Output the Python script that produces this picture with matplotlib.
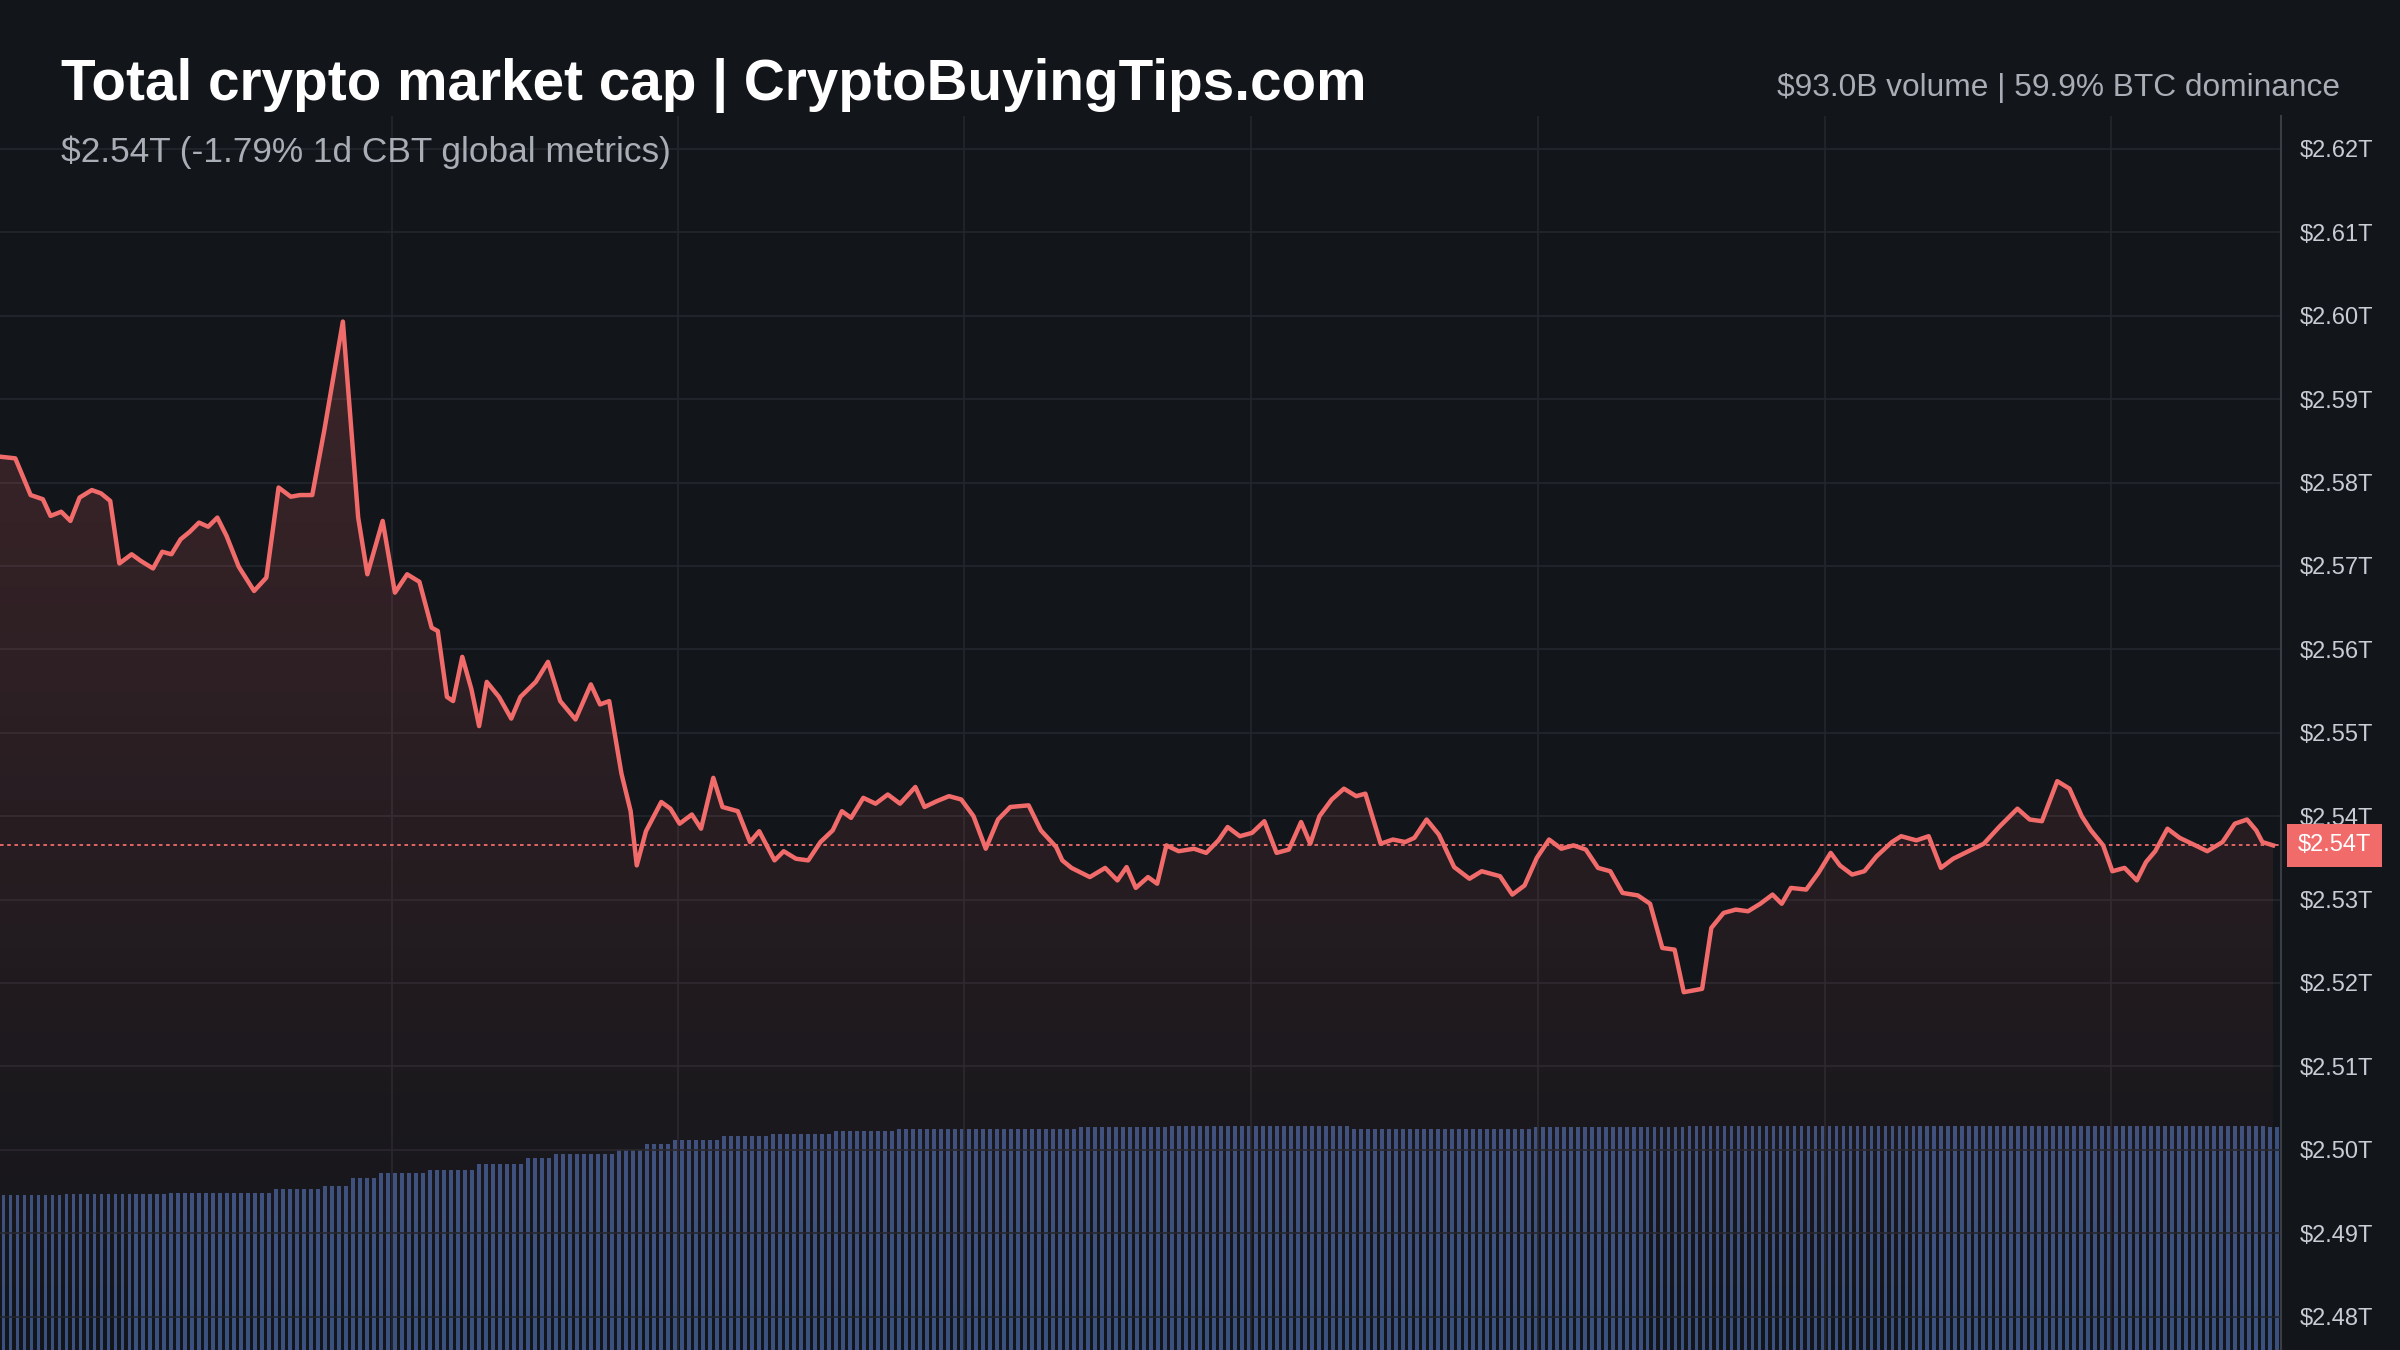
import numpy as np
import matplotlib
matplotlib.use("Agg")
import matplotlib.pyplot as plt
from matplotlib.patches import Polygon
from matplotlib.colors import LinearSegmentedColormap

plt.rcParams['font.family'] = ['Liberation Sans', 'DejaVu Sans']

# time steps (relative) and market cap in $T
t = [0,10,20,28,33,40,46,52,60,66,72,78,86,92,100,106,112,118,124,130,136,142,148,156,166,174,182,190,196,204,212,224,234,240,250,258,266,274,282,286,292,296,302,308,313,318,326,334,340,350,358,366,376,386,392,398,406,412,416,422,432,438,444,452,458,466,472,482,490,496,506,512,520,528,536,544,550,556,564,572,580,588,598,604,612,620,628,636,644,652,660,672,680,690,694,700,712,722,730,736,742,750,756,762,770,780,788,796,802,810,818,826,834,842,850,856,862,870,878,886,892,902,910,918,924,932,940,950,960,968,980,988,996,1004,1012,1020,1028,1036,1044,1052,1060,1070,1078,1086,1094,1100,1106,1112,1118,1126,1134,1142,1150,1158,1164,1170,1180,1188,1196,1202,1210,1218,1226,1236,1242,1252,1260,1268,1276,1286,1296,1306,1318,1326,1334,1344,1352,1360,1366,1374,1380,1388,1396,1402,1408,1416,1424,1432,1442,1452,1460,1468,1474,1478,1485]
cap = [2.5831,2.5829,2.5785,2.5780,2.5760,2.5765,2.5754,2.5782,2.5791,2.5787,2.5778,2.5703,2.5714,2.5706,2.5697,2.5717,2.5714,2.5732,2.5741,2.5752,2.5747,2.5758,2.5736,2.5699,2.5670,2.5686,2.5794,2.5783,2.5785,2.5785,2.5864,2.5993,2.5758,2.5690,2.5754,2.5668,2.5690,2.5681,2.5626,2.5622,2.5543,2.5538,2.5591,2.5552,2.5508,2.5561,2.5543,2.5517,2.5543,2.5561,2.5585,2.5538,2.5516,2.5558,2.5534,2.5538,2.5451,2.5406,2.5341,2.5382,2.5417,2.5409,2.5391,2.5402,2.5385,2.5446,2.5411,2.5406,2.5369,2.5382,2.5347,2.5358,2.5349,2.5347,2.5369,2.5383,2.5406,2.5398,2.5422,2.5415,2.5426,2.5415,2.5435,2.5411,2.5418,2.5424,2.5420,2.5400,2.5361,2.5396,2.5411,2.5413,2.5383,2.5363,2.5347,2.5338,2.5327,2.5338,2.5323,2.5339,2.5314,2.5327,2.5319,2.5365,2.5358,2.5361,2.5356,2.5371,2.5387,2.5376,2.5380,2.5394,2.5356,2.5360,2.5393,2.5367,2.5400,2.5420,2.5433,2.5424,2.5427,2.5367,2.5372,2.5369,2.5374,2.5396,2.5378,2.5339,2.5325,2.5334,2.5328,2.5306,2.5317,2.5350,2.5372,2.5361,2.5365,2.5360,2.5338,2.5334,2.5308,2.5305,2.5295,2.5242,2.5240,2.5189,2.5191,2.5193,2.5266,2.5284,2.5288,2.5286,2.5295,2.5306,2.5295,2.5314,2.5312,2.5332,2.5356,2.5341,2.5330,2.5334,2.5352,2.5369,2.5376,2.5371,2.5376,2.5338,2.5349,2.5358,2.5367,2.5387,2.5409,2.5396,2.5394,2.5442,2.5433,2.5400,2.5383,2.5365,2.5334,2.5338,2.5323,2.5345,2.5358,2.5385,2.5374,2.5367,2.5358,2.5369,2.5391,2.5396,2.5383,2.5369,2.5365]

# volume ($B) read as runs: (level, number of bars)
vol_levels = [64,64.5,65,66.5,68,71,73,74.5,77,79.5,81,82.5,85,87,88.5,89.5,90.5,91.5,92,92.5,91.5,92,92.8,92]
vol_counts = [9,15,15,7,4,4,7,7,7,4,9,4,4,7,7,9,9,26,13,26,26,22,83,2]
volume = np.repeat(vol_levels, vol_counts)

yticks = [2.48,2.49,2.50,2.51,2.52,2.53,2.54,2.55,2.56,2.57,2.58,2.59,2.60,2.61,2.62]
last_label = "$2.54T"

BG = '#12151a'
RED = '#f26b6b'
fig = plt.figure(figsize=(24, 13.5), dpi=100, facecolor=BG)
ax = fig.add_axes([0, 0, 0.9503, 0.9138])
X_MAX = 1490
ymin, ymax = 2.4760, 2.6239
ax.set_xlim(0, X_MAX)
ax.set_ylim(ymin, ymax)

axv = ax.twinx()
axv.set_ylim(0, 510)
step = X_MAX / len(volume)
bx = np.arange(len(volume)) * step + step / 2
axv.bar(bx, volume, width=step * 0.55, color='#3a5180', zorder=1)
axv.set_yticks([])
for s in axv.spines.values():
    s.set_visible(False)
ax.set_zorder(axv.get_zorder() + 1)
ax.patch.set_visible(False)
axv.set_facecolor(BG)

for v in yticks:
    ax.axhline(v, color='#23262d', lw=1.2, zorder=0)
for gx in [256, 443, 630, 817, 1005, 1192, 1379]:
    ax.axvline(gx, color='#23262d', lw=1.2, zorder=0)

grad = np.linspace(0, 1, 256).reshape(-1, 1)
cmap = LinearSegmentedColormap.from_list('g', [(0.95, 0.42, 0.42, 0.0), (0.95, 0.42, 0.42, 0.19)])
im = ax.imshow(grad, extent=[0, X_MAX, ymin, max(cap)], origin='lower', aspect='auto', cmap=cmap, zorder=2)
poly = Polygon(list(zip(t, cap)) + [(t[-1], ymin), (t[0], ymin)], closed=True, transform=ax.transData, facecolor='none', edgecolor='none')
ax.add_patch(poly)
im.set_clip_path(poly)

ax.plot(t, cap, color=RED, lw=3.2, zorder=4, solid_joinstyle='round')
ax.axhline(cap[-1], color=RED, lw=1.3, ls=(0, (2, 2)), zorder=3)

ax.set_xticks([])
ax.yaxis.tick_right()
ax.set_yticks(yticks)
ax.set_yticklabels([f"${v:.2f}T" for v in yticks], color='#c8ccd4', fontsize=17)
ax.tick_params(axis='y', length=0, pad=14)
for s in ['top', 'left', 'bottom']:
    ax.spines[s].set_visible(False)
ax.spines['right'].set_color('#3a3d44')
ax.spines['right'].set_linewidth(1.5)

ax.text(1.0075, cap[-1], last_label, transform=ax.get_yaxis_transform(), ha='left', va='center',
        fontsize=17, color='white', zorder=10,
        bbox=dict(boxstyle='square,pad=0.45', facecolor=RED, edgecolor='none'))

fig.text(0.0255, 0.937, "Total crypto market cap | CryptoBuyingTips.com", fontsize=40.8, fontweight='bold', color='white', va='center')
fig.text(0.0255, 0.887, "$2.54T (-1.79% 1d CBT global metrics)", fontsize=25.4, color='#a9adb5', va='center')
fig.text(0.975, 0.935, "$93.0B volume | 59.9% BTC dominance", fontsize=22.8, color='#a9adb5', va='center', ha='right')

fig.savefig('out.png', dpi=100, facecolor=BG)
